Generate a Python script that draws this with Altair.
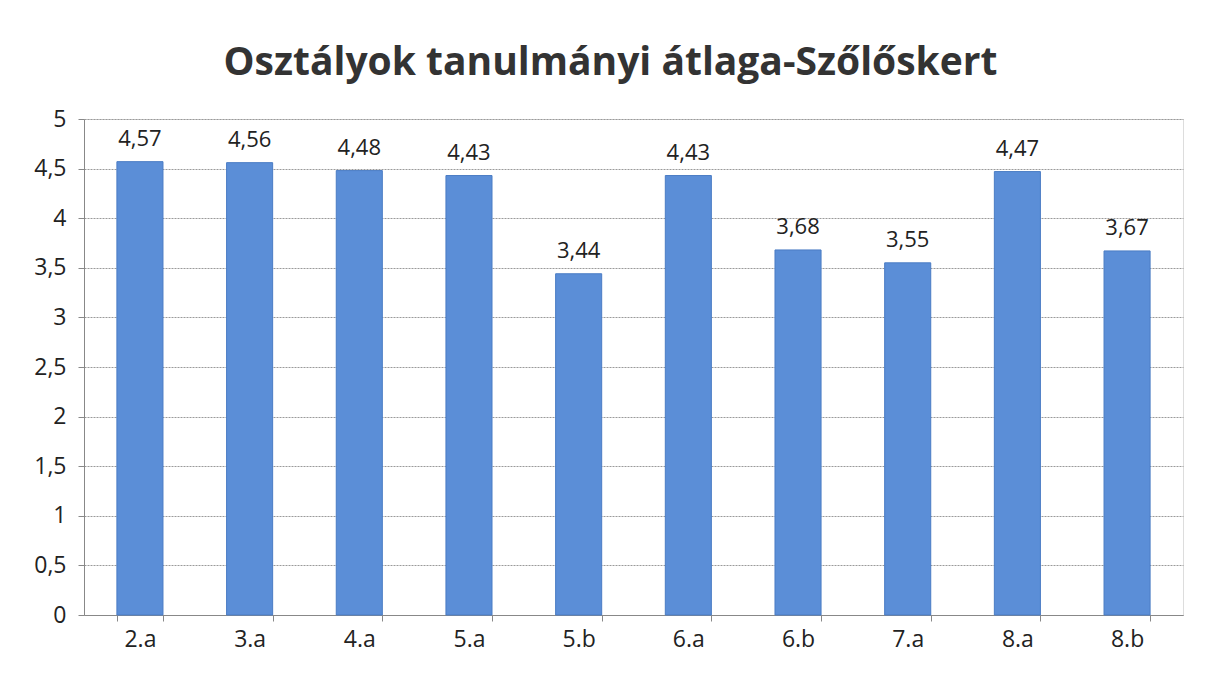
import altair as alt
import pandas as pd

classes = ["2.a", "3.a", "4.a", "5.a", "5.b", "6.a", "6.b", "7.a", "8.a", "8.b"]
averages = [4.57, 4.56, 4.48, 4.43, 3.44, 4.43, 3.68, 3.55, 4.47, 3.67]

df = pd.DataFrame({"osztaly": classes, "atlag": averages})

FONT = "Open Sans"

x = alt.X("osztaly:N", sort=classes, title=None,
          scale=alt.Scale(paddingInner=0.58, paddingOuter=0.3),
          axis=alt.Axis(labelAngle=0, labelFontSize=23, labelColor="#222",
                        labelFont=FONT, labelPadding=7, tickBand="extent",
                        tickSize=6, tickColor="#888", domainColor="#888",
                        grid=False))
y = alt.Y("atlag:Q", title=None,
          scale=alt.Scale(domain=[0, 5], nice=False),
          axis=alt.Axis(values=[0, 0.5, 1, 1.5, 2, 2.5, 3, 3.5, 4, 4.5, 5],
                        labelExpr="replace(toString(datum.value), '.', ',')",
                        labelFontSize=23, labelColor="#222", labelFont=FONT,
                        labelPadding=12, tickSize=6, tickColor="#888",
                        domainColor="#888", gridColor="#9a9a9a",
                        gridDash=[2, 1], gridWidth=1.2))

bars = alt.Chart(df).mark_bar(color="#5b8ed7", stroke="#4a7cc4", strokeWidth=1).encode(x=x, y=y)

labels = alt.Chart(df).mark_text(baseline="bottom", dy=-11, fontSize=22,
                                 font=FONT, color="#222").encode(
    x=alt.X("osztaly:N", sort=classes),
    y="atlag:Q",
    text=alt.Text("lbl:N"),
).transform_calculate(lbl="replace(format(datum.atlag, '.2f'), '.', ',')")

chart = alt.layer(bars, labels).properties(
    width=1099, height=496,
    title=alt.TitleParams("Osztályok tanulmányi átlaga-Szőlőskert",
                          fontSize=39, font=FONT, fontWeight="bold",
                          color="#333", anchor="middle", offset=25, dx=-23),
    autosize=alt.AutoSizeParams(type="none"),
    padding={"left": 76, "top": 111, "right": 5, "bottom": 50},
).configure_view(stroke=None).configure(background="white")

chart.save("out.html", embed_options={"renderer": "svg", "actions": False})
